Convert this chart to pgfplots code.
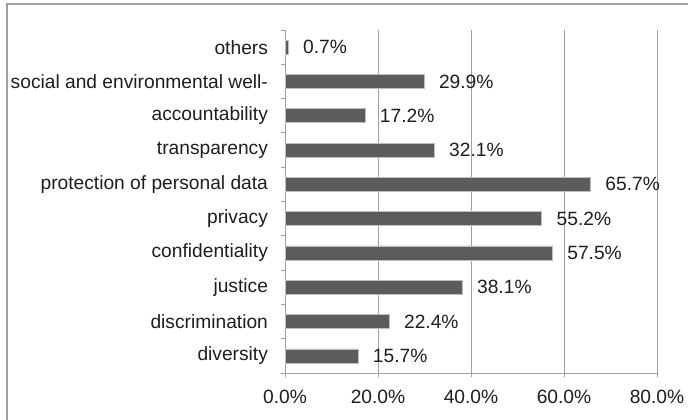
\documentclass[border=0pt]{standalone}
\usepackage{fontspec}
\setmainfont{Liberation Sans}
\usepackage{pgfplots}
\pgfplotsset{compat=1.18}
\definecolor{barc}{RGB}{92,92,92}
\definecolor{baredge}{RGB}{190,190,190}
\definecolor{gridc}{RGB}{160,160,160}
\definecolor{txt}{RGB}{30,30,30}
\begin{document}
\begin{tikzpicture}
\useasboundingbox (0pt,0pt) rectangle (344pt,209.5pt);
\draw[gridc, line width=0.8pt] (3.5pt,-5pt) -- (3.5pt,207.5pt) -- (350pt,207.5pt);
\begin{axis}[
  at={(142.5pt,23pt)}, anchor=south west,
  scale only axis, width=186pt, height=171.5pt,
  xbar, bar width=7pt,
  xmin=0, xmax=80, ymin=-0.5, ymax=9.5,
  axis x line=bottom, axis y line=left,
  axis line style={gridc, -},
  xtick={0,20,40,60,80},
  xmajorgrids, grid style={gridc, line width=0.5pt},
  tick style={gridc, line width=0.5pt},
  tick align=outside,
  major tick length=2pt,
  xticklabel={\pgfmathprintnumber[fixed,fixed zerofill,precision=1]{\tick}\%},
  xticklabel style={font=\fontsize{9.6}{11}\selectfont, text=txt, yshift=-3pt},
  ytick={0,...,9},
  yticklabels={diversity\ ,discrimination,justice\ ,confidentiality,privacy,protection of personal data,transparency,accountability,social and environmental well-,others},
  yticklabel style={font=\fontsize{9.6}{11}\selectfont, text=txt, xshift=-3pt},
  minor ytick={-0.5,0.5,...,9.5},
  y tick style={draw=none},
  minor y tick style={draw=gridc, line width=0.5pt},
  minor tick length=2pt,
  /pgf/number format/assume math mode=true,
  nodes near coords={\pgfmathprintnumber[fixed,fixed zerofill,precision=1]{\pgfplotspointmeta}\%},
  point meta=x,
  every node near coord/.append style={anchor=west, xshift=4pt, font=\fontsize{9.6}{11}\selectfont, text=txt},
  clip=false,
]
\addplot[fill=barc, draw=baredge, line width=0.3pt] coordinates {
(15.7,0) (22.4,1) (38.1,2) (57.5,3) (55.2,4) (65.7,5) (32.1,6) (17.2,7) (29.9,8) (0.7,9)};
\end{axis}
\end{tikzpicture}
\end{document}
